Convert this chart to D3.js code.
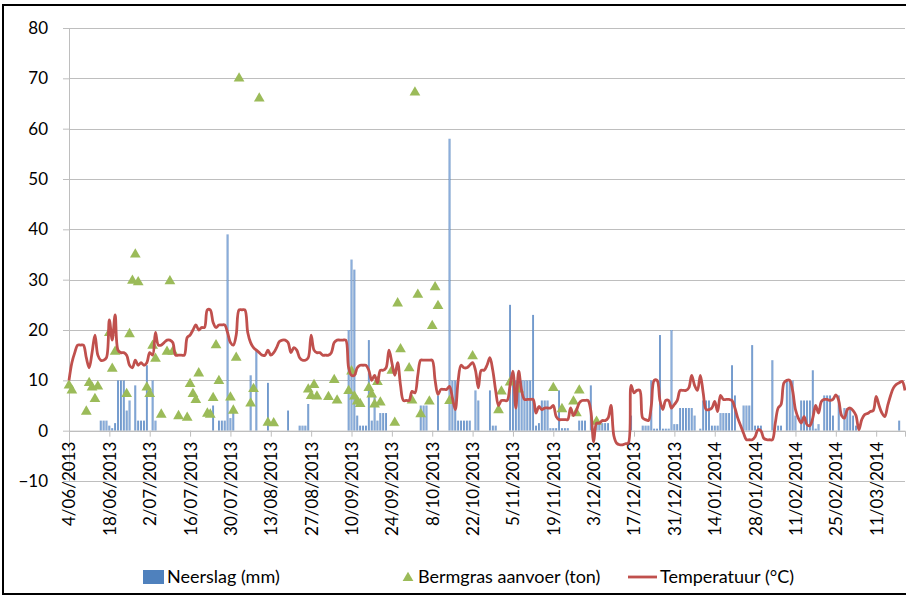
<!DOCTYPE html>
<html>
<head>
<meta charset="utf-8">
<script src="https://cdn.jsdelivr.net/npm/d3@7"></script>
<style>
  body { margin: 0; background: #fff; }
  text { font-family: Lato, "Open Sans", sans-serif; fill: #000; }
</style>
</head>
<body>
<div id="chart"></div>
<script>
var startDate = "4/06/2013",
    endDate = "21/03/2014";

// daily rainfall (mm)
var neerslag = [
  0,0,0,0,0,0,0,0,0,0,
  0,2,2,2,1,0.5,1.5,10,10,10,
  4,6,0,9,2,2,2,13,0,10,
  2,0,0,0,0,0,0,0,0,0,
  0,0,0,0,0,0,0,0,0,0,
  5,0,2,2,2,39,2.5,4.5,0,0,
  0,0,0,11,0,16,0,0,0,9.5,
  0,0,0,0,0,0,4,0,0,0,
  1,1,1,5.3,0,0,0,0,0,0,
  0,0,0,0,0,0,0,20,34,32,
  3,1,1,1,18,2,7,2,3.5,3.5,
  3.5,0,0,0,0,0,0,0,0,0,
  0,0,5,5,5,0,0,0,7,0,
  0,0,58,10,10,2,2,2,2,2,
  0,8,6,0,0,0,8,1,1,0,
  0,0,0,25,10,10,10,10,10,10,
  10,23,1,1.5,6,6,6,0.5,0.5,0.5,
  8,0.5,0.5,0.5,0,0,0,2,2,2,
  0,9,0,1.5,1.5,1.5,1.5,1.5,0,0,
  0,0,0,0,0,3,0,0,0,1,
  1,1,10,0.4,0.4,19,0.4,0.4,0.4,20,
  1.3,1.3,4.5,4.5,4.5,4.5,4.5,3,0,0.4,
  6,6,6,1,1,1,3.5,3.5,3.5,3.5,
  13,7,0,0,5,5,5,17,1,1,
  1,0,0,0,14,0,1,1,0,10,
  10,10,3,0,6,6,6,6,12,0.4,
  1.3,0,7,7,7,3,0,7,0,4.5,
  4.5,4.5,3,1,0,0,0,0,0,0,
  0,0,0,0,0,0,0,0,2,0,
  0
];

// daily temperature (°C)
var temperatuur = [
  10,13.5,15.5,17,17,17,14.5,12.5,15.5,19,
  15,14,14,14.5,22,18,23,16,15.5,15.5,
  15,13,12.5,14,13,13.5,13,13.5,15.5,15,
  19.5,17,17,17.5,18,18,17.5,15,15,15,
  15,18.5,19,20,21,20,20.5,20.5,24,24,
  21.5,20.5,21,21,21,19.5,17.5,17,19,24,
  24,24,19.5,17.5,16.5,16,15.5,15,15,16,
  15,15.5,16.5,17.7,18,18,17.5,15.5,16.5,16,
  14.5,14,14,14.5,19,16,15.5,15.5,15,15,
  15,15.5,17.5,18,18,18,18,12.5,11,11,
  12.5,13,13,13,12,10,11,9.5,12,12,
  12.5,16,13.5,11,13.5,9,6,6,6,7.8,
  7.5,11,14,14,14,14,14,10,7.2,8.2,
  8.2,8.2,8.8,6.5,4.2,10,13,12.5,12.5,13,
  13.5,12,8.5,12,12,13,14.5,12,8,5,
  6,6,6,9,11.8,4.5,11.8,8,6.2,6.2,
  6.2,6.2,3.5,4.8,4.2,4.5,4.5,4.5,5,2.8,
  2.2,2.2,2.2,2.2,4.5,3,4,5.5,6,6,
  6,4,-2.2,1.5,1.5,2,2,2.5,5,-1,
  -2.5,-2.8,-2.8,-2.6,-2.5,9,7.5,8,8,2.5,
  2.2,2,5,10,10,6,4.2,6,6,4.5,
  5.2,6,8,8,8,8.5,11,9,8,11,
  7.5,4.2,4.2,4.5,5.8,3.8,7,6.2,6.2,6.2,
  6,4.5,2.5,1,-0.5,-1.8,-1.8,-1.8,-1.2,0.2,
  0,-1.5,-1.8,-1.8,-1.8,1.5,4.5,5.2,9.5,10,
  10,8,4.2,2.5,1.5,2.8,1.2,1,2.5,5,
  3.5,5.8,6.2,6.2,6,6.2,7.1,6,3,2.5,
  4.2,4.5,4,3,0.2,2.2,3.2,3.4,3.8,4,
  6.8,5,3.5,2.8,5,7,8.5,9.2,9.5,9.8,
  8
];

// grass deliveries (ton)
var bermDates = [
  "4/06/2013","5/06/2013","10/06/2013","11/06/2013","12/06/2013","13/06/2013","14/06/2013",
  "18/06/2013","19/06/2013","20/06/2013","24/06/2013","25/06/2013","26/06/2013","27/06/2013","28/06/2013",
  "1/07/2013","2/07/2013","3/07/2013","4/07/2013","6/07/2013","8/07/2013","9/07/2013","10/07/2013",
  "12/07/2013","15/07/2013","16/07/2013","17/07/2013","18/07/2013","19/07/2013","22/07/2013","23/07/2013",
  "24/07/2013","25/07/2013","26/07/2013","30/07/2013","31/07/2013","1/08/2013","2/08/2013","6/08/2013",
  "7/08/2013","9/08/2013","12/08/2013","14/08/2013","26/08/2013","27/08/2013","28/08/2013","29/08/2013",
  "2/09/2013","4/09/2013","5/09/2013","9/09/2013","10/09/2013","11/09/2013","12/09/2013","13/09/2013",
  "16/09/2013","17/09/2013","18/09/2013","19/09/2013","20/09/2013","24/09/2013","25/09/2013","26/09/2013",
  "27/09/2013","30/09/2013","1/10/2013","2/10/2013","3/10/2013","4/10/2013","7/10/2013","8/10/2013",
  "9/10/2013","10/10/2013","14/10/2013","22/10/2013","31/10/2013","1/11/2013","4/11/2013","7/11/2013",
  "19/11/2013","22/11/2013","26/11/2013","27/11/2013","28/11/2013","4/12/2013"
];
var bermValues = [
  9,8,3.8,9.5,8.6,6.3,8.8,
  19.4,12.3,15.7,7.3,19.2,29.8,35,29.5,
  8.6,7.3,16.9,14.3,3.2,15.7,29.7,15.7,
  2.9,2.6,9.3,7.3,6.1,11.4,3.4,3.2,
  6.5,17,9.9,6.6,4,14.5,70,5.4,
  8.3,66,1.6,1.5,8.2,6.9,9.1,6.8,
  6.7,10.1,6,7.9,11.8,6.8,5.8,5.3,
  8.5,7.2,5.2,9.7,5.6,11.9,1.6,25.3,
  16.2,12.4,6,67.2,27,3.3,5.8,20.8,
  28.5,24.8,5.9,14.8,4.1,7.8,9.6,8.2,
  8.5,4.3,5.8,3.5,8,1.8
];

var yTicks = [-10, 0, 10, 20, 30, 40, 50, 60, 70, 80];
var xTickLabels = [
  "4/06/2013","18/06/2013","2/07/2013","16/07/2013","30/07/2013","13/08/2013","27/08/2013",
  "10/09/2013","24/09/2013","8/10/2013","22/10/2013","5/11/2013","19/11/2013","3/12/2013",
  "17/12/2013","31/12/2013","14/01/2014","28/01/2014","11/02/2014","25/02/2014","11/03/2014"
];

var W = 906, H = 597;
var margin = {top: 28, right: 1, bottom: 116, left: 69};
var width = W - margin.left - margin.right,
    height = H - margin.top - margin.bottom;

var parse = d3.utcParse("%d/%m/%Y");
var days = d3.utcDay.range(parse(startDate), d3.utcDay.offset(parse(endDate), 1));

var svg = d3.select("#chart").append("svg")
    .attr("width", W)
    .attr("height", H);

// outer frame
svg.append("rect")
    .attr("x", 3).attr("y", 5)
    .attr("width", W + 10).attr("height", 589)
    .attr("fill", "none")
    .attr("stroke", "#000")
    .attr("stroke-width", 2);

var defs = svg.append("defs");
var grad = defs.append("linearGradient").attr("id", "barGrad")
    .attr("x1", "0%").attr("x2", "100%").attr("y1", "0%").attr("y2", "0%");
grad.append("stop").attr("offset", "0%").attr("stop-color", "#4A7CBA");
grad.append("stop").attr("offset", "50%").attr("stop-color", "#8DAFDC");
grad.append("stop").attr("offset", "100%").attr("stop-color", "#4A7CBA");

var g = svg.append("g")
    .attr("transform", "translate(" + margin.left + "," + margin.top + ")");

var x = d3.scaleUtc()
    .domain([days[0], days[days.length - 1]])
    .range([0, width]);
var y = d3.scaleLinear()
    .domain([-10, 80])
    .range([height, 0]);

// grid
g.append("g")
  .selectAll("line")
  .data(yTicks)
  .enter().append("line")
    .attr("x1", 0).attr("x2", width)
    .attr("y1", function(d) { return Math.round(y(d)) + 0.5; })
    .attr("y2", function(d) { return Math.round(y(d)) + 0.5; })
    .attr("stroke", "#BEBEBE");

// y axis
var yAxis = g.append("g")
    .attr("class", "y axis")
    .call(d3.axisLeft(y).tickValues(yTicks).tickSize(6).tickPadding(15));
yAxis.selectAll("line").attr("stroke", "#BEBEBE");
yAxis.select(".domain").attr("stroke", "#BEBEBE");
yAxis.selectAll("text").style("font-size", "17px");

// rainfall bars
g.append("g")
  .selectAll("rect")
  .data(days.map(function(d, i) { return {date: d, v: neerslag[i]}; })
            .filter(function(d) { return d.v > 0; }))
  .enter().append("rect")
    .attr("x", function(d) { return x(d.date) - 0.9; })
    .attr("width", 1.8)
    .attr("y", function(d) { return y(d.v); })
    .attr("height", function(d) { return y(0) - y(d.v); })
    .attr("fill", "url(#barGrad)");

// x axis at zero
var xAxis = g.append("g")
    .attr("class", "x axis")
    .attr("transform", "translate(0," + y(0) + ")")
    .call(d3.axisBottom(x)
        .tickValues(xTickLabels.map(parse))
        .tickSize(6)
        .tickFormat(function(d, i) { return xTickLabels[i]; }));
xAxis.selectAll("line").attr("stroke", "#BEBEBE");
xAxis.select(".domain").attr("stroke", "#BEBEBE");
xAxis.selectAll("text")
    .attr("transform", "rotate(-90)")
    .attr("x", -11)
    .attr("y", 0)
    .attr("dy", "0.35em")
    .style("text-anchor", "end")
    .style("font-size", "17px");

// grass deliveries
g.append("g")
  .selectAll("path")
  .data(bermDates.map(function(d, i) { return {date: parse(d), v: bermValues[i]}; }))
  .enter().append("path")
    .attr("transform", function(d) { return "translate(" + x(d.date) + "," + y(d.v) + ")"; })
    .attr("d", d3.symbol().type(d3.symbolTriangle).size(50))
    .attr("fill", "#9BBB59");

// temperature
var line = d3.line()
    .x(function(d) { return x(d.date); })
    .y(function(d) { return y(d.v); })
    .curve(d3.curveCatmullRom.alpha(0.5));

g.append("path")
    .datum(days.map(function(d, i) { return {date: d, v: temperatuur[i]}; }))
    .attr("d", line)
    .attr("fill", "none")
    .attr("stroke", "#C0504D")
    .attr("stroke-width", 2.8)
    .attr("stroke-linejoin", "round");

// legend
var legend = svg.append("g").attr("transform", "translate(0,577)");
legend.append("rect")
    .attr("x", 143).attr("y", -7)
    .attr("width", 21).attr("height", 14)
    .attr("fill", "#4F81BD");
legend.append("text").attr("x", 167).attr("dy", "0.35em")
    .style("font-size", "18px").text("Neerslag (mm)");
legend.append("path")
    .attr("transform", "translate(408,1)")
    .attr("d", d3.symbol().type(d3.symbolTriangle).size(50))
    .attr("fill", "#9BBB59");
legend.append("text").attr("x", 418).attr("dy", "0.35em")
    .style("font-size", "18px").text("Bermgras aanvoer (ton)");
legend.append("line")
    .attr("x1", 628).attr("x2", 657)
    .attr("stroke", "#C0504D").attr("stroke-width", 2.8);
legend.append("text").attr("x", 660).attr("dy", "0.35em")
    .style("font-size", "18px").text("Temperatuur (°C)");
</script>
</body>
</html>
